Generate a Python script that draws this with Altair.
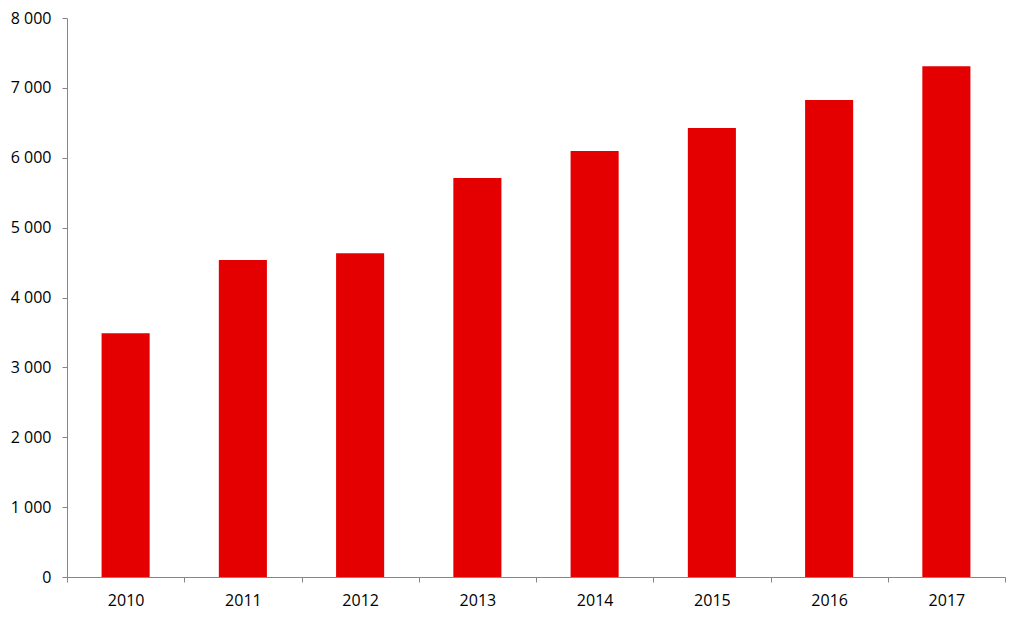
import altair as alt
import pandas as pd

years = ["2010", "2011", "2012", "2013", "2014", "2015", "2016", "2017"]
values = [3490, 4535, 4635, 5710, 6095, 6425, 6825, 7310]

df = pd.DataFrame({"year": years, "value": values})

axis_color = "#868686"
font = "Open Sans"

chart = alt.Chart(df).mark_bar(color="#E40000", width=alt.RelativeBandSize(0.41)).encode(
    x=alt.X("year:N", sort=years, title=None,
            scale=alt.Scale(paddingInner=0, paddingOuter=0),
            axis=alt.Axis(labelAngle=0, tickBand="extent", tickSize=5,
                          domainColor=axis_color, tickColor=axis_color,
                          labelColor="#000000", labelFont=font, labelFontSize=16,
                          labelPadding=10)),
    y=alt.Y("value:Q", title=None,
            scale=alt.Scale(domain=[0, 8000], nice=False),
            axis=alt.Axis(values=list(range(0, 8001, 1000)), grid=False, tickSize=5,
                          domainColor=axis_color, tickColor=axis_color,
                          labelColor="#000000", labelFont=font, labelFontSize=16,
                          labelPadding=11,
                          labelExpr="replace(format(datum.value, ','), ',', ' ')")),
).properties(
    width=938, height=559,
    autosize=alt.AutoSizeParams(type="none"),
    padding={"left": 59, "top": 10, "right": 10, "bottom": 36},
).configure_view(stroke=None)

chart.save("out.html", embed_options={"renderer": "svg", "actions": False})
